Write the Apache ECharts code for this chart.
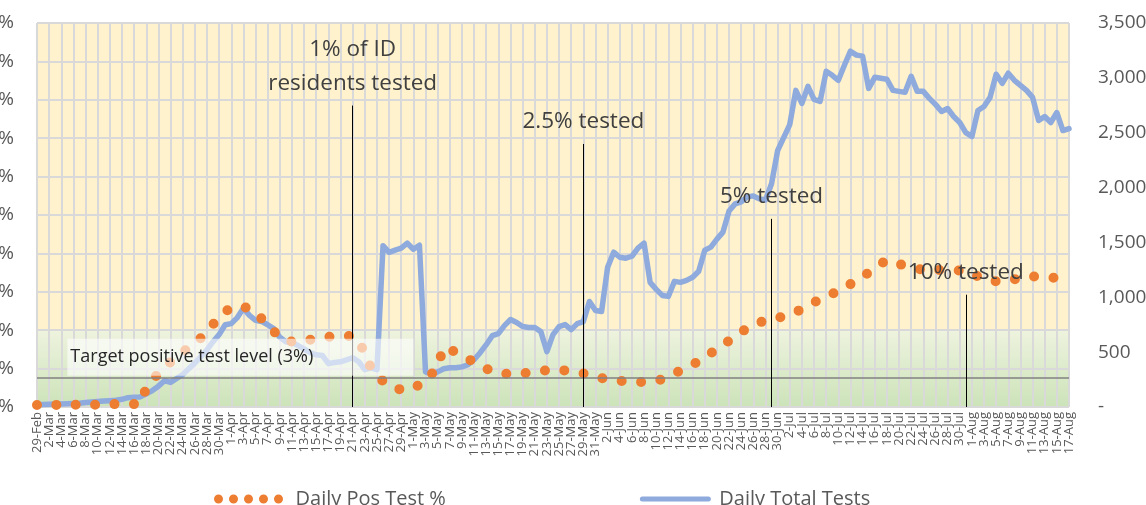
<!DOCTYPE html>
<html>
<head>
<meta charset="utf-8">
<script src="https://cdn.jsdelivr.net/npm/echarts@6/dist/echarts.min.js"></script>
<style>
  html, body { margin: 0; padding: 0; background: #fff; }
  #chart { width: 1146px; height: 505px; }
</style>
</head>
<body>
<div id="chart"></div>
<script>
// day labels 29-Feb .. 17-Aug
const monthNames = ['Mar', 'Apr', 'May', 'Jun', 'Jul', 'Aug'];
const monthDays = [31, 30, 31, 30, 31, 17];
const categories = ['29-Feb'];
monthNames.forEach((m, k) => {
    for (let d = 1; d <= monthDays[k]; d++) categories.push(d + '-' + m);
});

// Daily Total Tests (right axis)
const totalTests = [
    20, 22, 25, 27, 28, 30, 32, 35, 40, 45, 50, 55, 58, 62, 70, 85, 90, 92,
    120, 150, 190, 240, 225, 260, 295, 350, 400, 460, 520, 595, 660, 750, 760, 815, 900,
    835, 790, 780, 750, 715, 635, 595, 585, 560, 530, 495, 476, 470, 395, 405, 412, 430, 449, 412, 340, 357, 340,
    1470, 1410, 1430, 1448, 1493, 1438, 1475,
    320, 302, 320, 348, 357, 357, 366, 385, 431, 495, 568, 650, 669, 742, 797, 770, 733, 724, 724, 687,
    504, 660, 733, 751, 705, 760, 779, 962, 880, 870,
    1274, 1411, 1365, 1356, 1374, 1448, 1493, 1136, 1072, 1017, 1008, 1145, 1136, 1154, 1182, 1237, 1429, 1457, 1530, 1594,
    1787, 1851, 1869, 1915, 1924, 1897, 1887,
    2034, 2336, 2455, 2574, 2886, 2767, 2923, 2804, 2785, 3060, 3023, 2978, 3115, 3243, 3207, 3198, 2904, 3005, 2996, 2987,
    2886, 2877, 2868, 3014, 2877, 2877, 2813, 2758, 2694, 2721, 2648, 2593, 2501, 2465, 2703, 2739, 2822, 3033, 2950, 3042,
    2978, 2932, 2886, 2822, 2611, 2648, 2593, 2684, 2520, 2538
];

// Daily Pos Test % (left axis)
const posRate = [
    0.2, 0.3, 0.3, 0.2, 0.3, 0.3, 0.2, 0.3, 0.3, 0.3, 0.2, 0.3, 0.3, 0.3, 0.3, 0.3, 0.3, 0.3,
    2.0, 2.8, 3.5, 4.1, 4.7, 5.2, 5.7, 6.2, 6.6, 7.2, 7.8, 8.6, 9.4, 9.9, 10.4, 10.5, 10.4, 10.3, 9.8, 9.2, 8.6, 7.9, 7.2,
    7.0, 6.8, 6.7, 6.8, 7.0, 7.2, 7.3, 7.3, 7.4, 7.4, 7.4, 7.4, 7.0, 5.5, 4.1, 3.3, 2.7, 2.2, 2.0, 1.8,
    1.7, 2.0, 2.3, 2.6, 3.4, 4.3, 6.2, 6.0, 5.7, 5.3, 5.0, 4.7, 4.4, 4.0, 3.7, 3.5, 3.5, 3.4, 3.4, 3.5,
    3.6, 3.7, 3.8, 3.8, 3.9, 3.9, 3.8, 3.7, 3.6, 3.5,
    3.3, 3.2, 3.0, 2.9, 2.8, 2.7, 2.7, 2.6, 2.6, 2.6, 2.6, 2.7, 2.9, 3.2, 3.5, 3.8, 4.1, 4.4, 4.8, 5.2,
    5.6, 6.1, 6.5, 6.9, 7.4, 7.8, 8.2, 8.5, 8.8, 9.0,
    9.2, 9.3, 9.4, 9.7, 9.9, 10.2, 10.5, 10.9, 11.2, 11.5, 11.8, 12.0, 12.4, 12.8, 13.2, 13.6, 14.0, 14.5, 14.9, 15.3,
    15.1, 14.9, 14.7, 14.6, 14.4, 14.3, 14.2, 14.2, 14.3, 14.3, 14.3, 14.2, 14.2, 13.9, 13.6, 13.3, 13.2, 13.1, 13.1, 13.2,
    13.3, 13.5, 13.5, 13.6, 13.6, 13.6, 13.5, 13.4, 13.3, 13.3
];

// milestone markers
const milestoneDay = ['21-Apr', '29-May', '29-Jun', '31-Jul'];
const milestoneTop = [31.4, 27.4, 19.6, 11.7];
const milestoneText = ['1% of ID\nresidents tested', '2.5% tested', '5% tested', '10% tested'];

const targetLevel = 3;
const greenBandTop = 8;

const font = 'Open Sans';
const grey = '#595959';

const chart = echarts.init(document.getElementById('chart'));

chart.setOption({
    animation: false,
    textStyle: { fontFamily: font },
    grid: {
        left: 37,
        right: 77,
        top: 23,
        bottom: 98,
        containLabel: false,
        outerBoundsMode: 'none'
    },
    legend: {
        left: 209,
        top: 484,
        itemWidth: 66,
        itemHeight: 10,
        itemGap: 194,
        itemStyle: { opacity: 0 },
        textStyle: { fontSize: 20, color: grey, padding: [0, 0, 0, 6] },
        data: [
            {
                name: 'Daily Pos Test %',
                lineStyle: { color: '#ED7D31', width: 9, type: [0, 15], cap: 'round' }
            },
            {
                name: 'Daily Total Tests',
                lineStyle: { color: '#8FAADC', width: 5, cap: 'round' }
            }
        ]
    },
    xAxis: {
        type: 'category',
        data: categories,
        boundaryGap: false,
        z: 1,
        axisLine: { show: false },
        axisTick: { show: false },
        axisLabel: {
            // every label drawn, odd days left blank
            interval: 0,
            formatter: (v, idx) => idx % 2 === 0 ? v : '',
            hideOverlap: false,
            rotate: 90,
            fontSize: 13,
            lineHeight: 10,
            color: grey,
            margin: 5
        },
        splitLine: {
            show: true,
            interval: 1,
            lineStyle: { color: '#D9D9D9', width: 2 }
        }
    },
    yAxis: [
        {
            type: 'value',
            min: 0,
            max: 40,
            interval: 4,
            z: 1,
            axisLine: { show: false },
            axisTick: { show: false },
            axisLabel: {
                formatter: '{value}%',
                fontSize: 19,
                color: grey,
                margin: 23
            },
            splitLine: { lineStyle: { color: '#D9D9D9', width: 2 } }
        },
        {
            type: 'value',
            min: 0,
            max: 3500,
            interval: 500,
            z: 1,
            axisLine: { show: false },
            axisTick: { show: false },
            splitLine: { show: false },
            axisLabel: {
                fontSize: 19,
                color: grey,
                margin: 29,
                formatter: v => v === 0 ? '-' : v.toLocaleString('en-US')
            }
        }
    ],
    series: [
        {
            name: 'bg',
            type: 'line',
            data: [],
            silent: true,
            markArea: {
                z: 0,
                silent: true,
                data: [
                    [
                        { yAxis: greenBandTop, itemStyle: { color: '#FFF2CC' } },
                        { yAxis: 40 }
                    ],
                    [
                        {
                            yAxis: 0,
                            itemStyle: {
                                color: {
                                    type: 'linear', x: 0, y: 0, x2: 0, y2: 1,
                                    colorStops: [
                                        { offset: 0, color: '#EEF3DE' },
                                        { offset: 1, color: '#CCE3B9' }
                                    ]
                                }
                            }
                        },
                        { yAxis: greenBandTop }
                    ]
                ]
            }
        },
        {
            name: 'Daily Total Tests',
            type: 'line',
            yAxisIndex: 1,
            z: 2,
            data: totalTests,
            symbol: 'none',
            lineStyle: { color: '#8FAADC', width: 5.5, join: 'round', cap: 'round' },
            itemStyle: { color: '#8FAADC' }
        },
        {
            name: 'Daily Pos Test %',
            type: 'line',
            yAxisIndex: 0,
            z: 3,
            data: posRate,
            symbol: 'none',
            lineStyle: { color: '#ED7D31', width: 10, type: [0, 19.5], cap: 'round' },
            itemStyle: { color: '#ED7D31' },
            markLine: {
                silent: true,
                symbol: 'none',
                animation: false,
                data: [
                    {
                        yAxis: targetLevel,
                        lineStyle: { color: '#808080', width: 1.5, type: 'solid' },
                        label: { show: false }
                    }
                ].concat(milestoneDay.map((d, k) => [
                    {
                        coord: [d, milestoneTop[k]],
                        lineStyle: { color: '#000', width: 1, type: 'solid' },
                        label: {
                            show: true,
                            position: 'start',
                            formatter: milestoneText[k],
                            fontFamily: font,
                            fontSize: 22.5,
                            lineHeight: 34,
                            color: '#404040',
                            distance: 5
                        }
                    },
                    { coord: [d, 0] }
                ]))
            },
            markArea: {
                z: 10,
                silent: true,
                data: [[
                    {
                        xAxis: categories[5],
                        yAxis: 7.1,
                        itemStyle: { color: 'rgba(255,255,255,0.6)' },
                        label: {
                            show: true,
                            position: 'insideLeft',
                            formatter: 'Target positive test level (3%)',
                            fontFamily: font,
                            fontSize: 18,
                            color: '#262626',
                            distance: 3
                        }
                    },
                    { xAxis: categories[62], yAxis: 3.25 }
                ]]
            }
        }
    ]
});
</script>
</body>
</html>
